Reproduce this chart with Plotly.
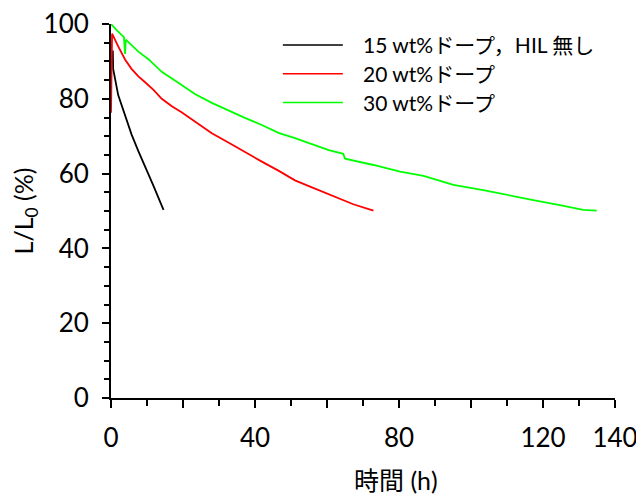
import plotly.graph_objects as go

# 15 wt% doped, no HIL
black_x = [0.5, 0.6, 2.0, 3.9, 5.7, 7.6, 9.4, 11.8, 14.5, 14.6]
black_y = [92.9, 88.0, 81.0, 75.5, 70.5, 66.0, 61.8, 56.7, 50.5, 50.3]

# 20 wt% doped
red_x = [0.0, 0.3, 2.0, 3.9, 5.7, 7.6, 9.4, 11.8, 14.1, 16.9, 19.6, 23.3, 28.0,
         32.6, 37.2, 41.9, 46.5, 51.1, 55.3, 61.8, 67.3, 72.9]
red_y = [76.3, 97.4, 94.0, 90.5, 88.0, 86.0, 84.5, 82.4, 80.0, 78.0, 76.4, 73.9,
         70.8, 68.3, 65.7, 63.2, 60.8, 58.2, 56.5, 54.0, 51.8, 50.1]

# 30 wt% doped
green_x = [0.0, 1.7, 3.6, 3.9, 4.1, 7.6, 10.4, 14.1, 18.7, 23.3, 28.0, 32.6, 37.2,
           41.9, 46.5, 51.1, 55.3, 60.5, 64.5, 65.0, 72.9, 80.3, 86.8, 95.1,
           103.4, 109.9, 117.3, 124.7, 131.2, 134.9]
green_y = [100.0, 98.2, 96.5, 92.0, 95.8, 92.6, 90.6, 87.2, 84.3, 81.3, 78.9, 76.8,
           74.9, 73.0, 70.9, 69.5, 68.1, 66.3, 65.3, 64.0, 62.3, 60.5, 59.4, 57.0,
           55.6, 54.3, 52.9, 51.6, 50.3, 50.1]

names = ["15 wt%ドープ，HIL 無し", "20 wt%ドープ", "30 wt%ドープ"]
colors = ["#000000", "#ff0000", "#00ff00"]

x_ticks = [0, 20, 40, 60, 80, 100, 120, 140]
x_ticktext = ["0", "", "40", "", "80", "", "120", "140"]
y_ticks = [0, 20, 40, 60, 80, 100]

FONT = "Lato, 'Noto Sans CJK JP', sans-serif"

fig = go.Figure()
for xs, ys, nm, c in [(black_x, black_y, names[0], colors[0]),
                      (red_x, red_y, names[1], colors[1]),
                      (green_x, green_y, names[2], colors[2])]:
    fig.add_trace(go.Scatter(x=xs, y=ys, mode="lines", name=nm, showlegend=False,
                             line=dict(color=c, width=1.8), cliponaxis=False))

# custom legend with long line samples
legend_rows = [0.944, 0.867, 0.790]
for nm, c, yy in zip(names, colors, legend_rows):
    fig.add_shape(type="line", xref="paper", yref="paper",
                  x0=0.341, x1=0.460, y0=yy, y1=yy,
                  line=dict(color=c, width=1.6))
    fig.add_annotation(xref="paper", yref="paper", x=0.496, y=yy,
                       text=nm, showarrow=False, xanchor="left", yanchor="middle",
                       font=dict(size=21, family=FONT, color="black"))

# x-axis title placed as in the reference (right of centre)
fig.add_annotation(xref="paper", yref="paper", x=0.565, y=-0.219,
                   text="時間 (h)", showarrow=False, xanchor="center", yanchor="middle",
                   font=dict(size=25, family=FONT, color="black"))

fig.update_layout(
    width=636, height=489,
    margin=dict(l=103, r=29, t=16, b=99),
    paper_bgcolor="white", plot_bgcolor="white",
    font=dict(family=FONT, color="black"),
    showlegend=False,
    xaxis=dict(range=[0, 140], showgrid=False, zeroline=False, automargin=False,
               showline=True, linecolor="black", linewidth=2,
               ticks="outside", tickvals=x_ticks, ticktext=x_ticktext,
               ticklen=8, tickwidth=2, tickcolor="black",
               minor=dict(dtick=10, ticks="outside", ticklen=6, tickwidth=2, tickcolor="black"),
               tickfont=dict(size=26), ticklabelstandoff=8, ticklabeloverflow="allow"),
    yaxis=dict(range=[0, 100], showgrid=False, zeroline=False, automargin=False,
               showline=True, linecolor="black", linewidth=2,
               ticks="outside", tickvals=y_ticks,
               ticklen=7, tickwidth=2, tickcolor="black",
               minor=dict(dtick=5, ticks="outside", ticklen=5, tickwidth=2, tickcolor="black"),
               tickfont=dict(size=26), ticklabelstandoff=8, ticklabeloverflow="allow",
               title=dict(text="L/L<sub>0</sub> (%)", font=dict(size=25), standoff=12)),
)

fig.write_html("out.html")
